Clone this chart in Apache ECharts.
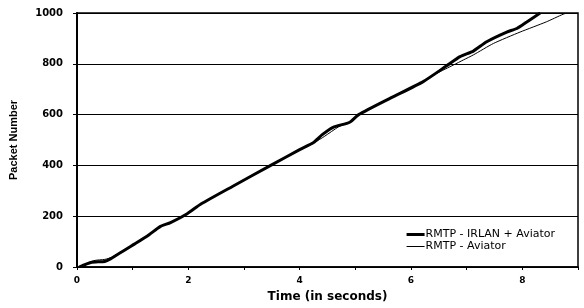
<!DOCTYPE html>
<html>
<head>
<meta charset="utf-8">
<script src="https://cdn.jsdelivr.net/npm/echarts@6/dist/echarts.min.js"></script>
<style>html,body{margin:0;padding:0;background:#fff}#c{width:584px;height:308px}</style>
</head>
<body>
<div id="c"></div>
<script>
var seriesNames = ['RMTP - IRLAN + Aviator', 'RMTP - Aviator'];
var xTitle = 'Time (in seconds)';
var yTitle = 'Packet Number';
var irlanAviator = [
  [0.04,0],[0.25,18],[0.5,22],[0.6,32],[1.03,90],[1.27,123],[1.5,160],[1.68,175],
  [1.98,210],[2.22,247],[2.8,318],[3.48,400],[4.0,462],[4.25,490],[4.4,520],[4.6,550],
  [4.9,570],[5.06,600],[5.63,665],[6.22,730],[6.64,792],[6.88,828],[7.12,850],[7.36,887],
  [7.72,925],[7.9,939],[8.08,965],[8.32,1000]
];
var aviator = [
  [0.04,0],[0.3,25],[0.5,30],[0.62,38],[1.03,90],[1.27,123],[1.5,160],[1.68,175],
  [1.98,210],[2.22,247],[2.8,318],[3.48,400],[4.0,462],[4.25,488],[4.45,515],[4.7,552],
  [4.9,572],[5.06,600],[5.63,665],[6.22,730],[6.46,762],[6.76,795],[6.94,815],[7.12,835],
  [7.48,880],[7.96,925],[8.43,965],[8.73,995],[8.8,1000]
];
var chart = echarts.init(document.getElementById('c'), null, {renderer:'canvas'});
chart.setOption({
  animation: false,
  backgroundColor: '#fff',
  grid: {left: 76, right: 6, top: 13, bottom: 40, show: true, borderColor: '#000', borderWidth: 1.5},
  legend: {
    orient: 'vertical', right: 24, top: 224, itemWidth: 18, itemHeight: 10, itemGap: 1,
    textStyle: {fontFamily: 'DejaVu Sans', fontSize: 11, color: '#000', padding: [0,0,0,-4]},
    data: [
      {name: seriesNames[0], icon: 'path://M0,0M18,10M0,3.5H18V6.5H0Z', itemStyle: {color: '#000'}},
      {name: seriesNames[1], icon: 'path://M0,0M18,10M0,4.5H18V5.5H0Z', itemStyle: {color: '#000'}}
    ]
  },
  xAxis: {
    type: 'value', min: 0, max: 9, interval: 1,
    name: xTitle, nameLocation: 'middle', nameGap: 24,
    nameTextStyle: {fontFamily: 'DejaVu Sans', fontWeight: 'bold', fontSize: 12, color: '#000'},
    axisLine: {lineStyle: {color: '#000', width: 1.5}},
    axisTick: {show: true, length: 3, lineStyle: {color: '#000'}},
    axisLabel: {fontFamily: 'DejaVu Sans', fontWeight: 'bold', fontSize: 9, color: '#000', margin: 9,
      formatter: function(v){ return v % 2 === 0 && v < 9 ? String(v) : ''; }},
    splitLine: {show: false}
  },
  yAxis: {
    type: 'value', min: 0, max: 1000, interval: 200,
    name: yTitle, nameLocation: 'middle', nameGap: 58, nameRotate: 90,
    nameTextStyle: {fontFamily: 'Liberation Sans', fontWeight: 'bold', fontSize: 11, color: '#000'},
    axisLine: {show: true, lineStyle: {color: '#000', width: 2}},
    axisTick: {show: true, length: 4, lineStyle: {color: '#000'}},
    axisLabel: {fontFamily: 'DejaVu Sans', fontWeight: 'bold', fontSize: 10, color: '#000', margin: 14,
      formatter: function(v){ return String(v); }},
    splitLine: {show: true, lineStyle: {color: '#000', width: 1}}
  },
  series: [
    {name: seriesNames[0], type: 'line', data: irlanAviator, symbol: 'none', smooth: 0.2,
     lineStyle: {color: '#000', width: 3}, itemStyle: {color: '#000'}, z: 3},
    {name: seriesNames[1], type: 'line', data: aviator, symbol: 'none', smooth: 0.2,
     lineStyle: {color: '#000', width: 1}, itemStyle: {color: '#000'}, z: 2}
  ]
});
</script>
</body>
</html>
